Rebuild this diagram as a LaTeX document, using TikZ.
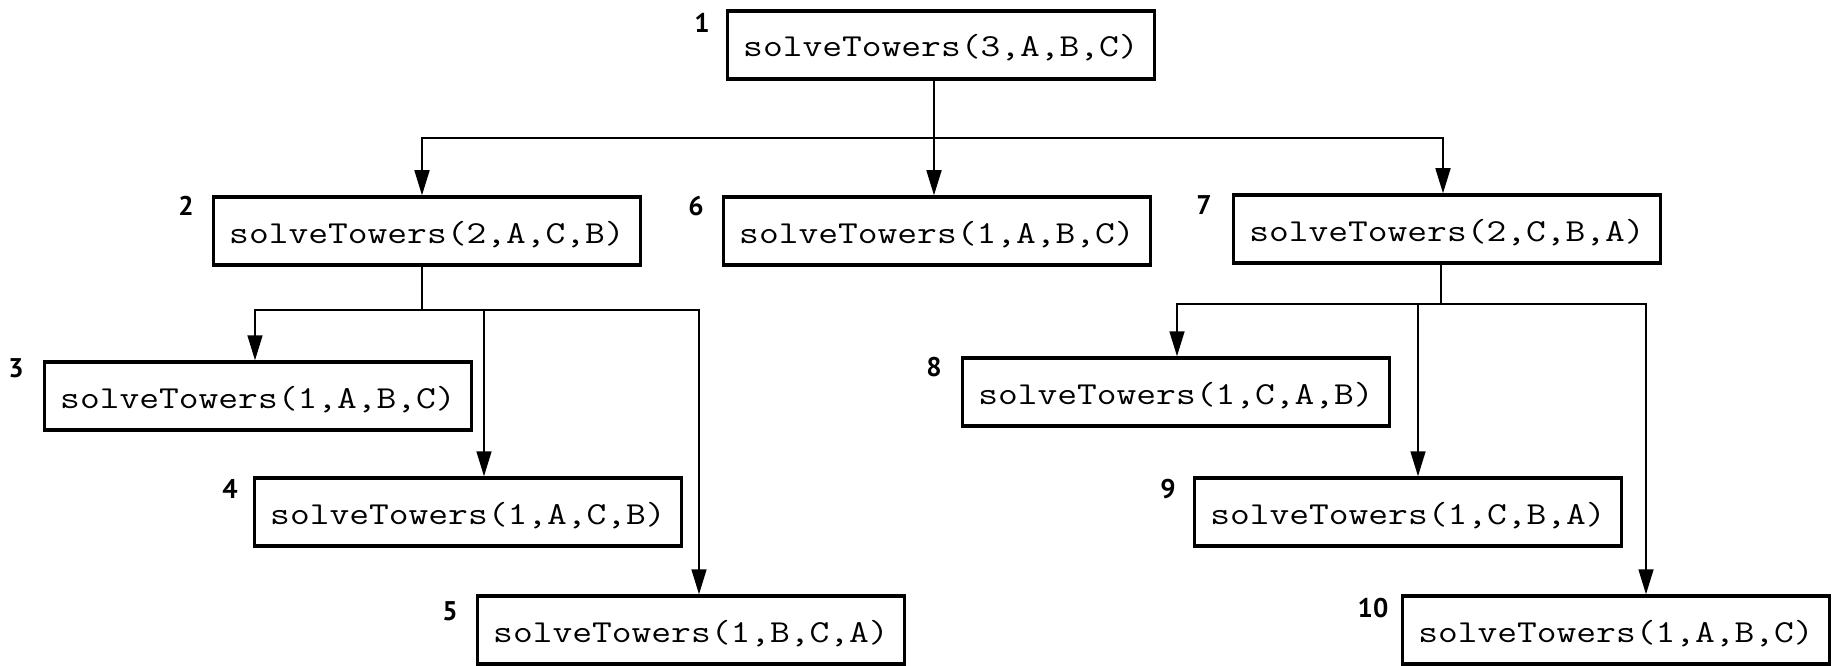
\documentclass[tikz,border=0pt]{standalone}
\usepackage{fontspec}
\newfontfamily\labelfont{PT Sans}
\usetikzlibrary{arrows.meta}
\tikzset{
  call/.style={draw, line width=3.5pt, minimum width=427pt, minimum height=68pt, inner sep=0pt,
    text height=28pt, text depth=4pt, font=\ttfamily\fontsize{32}{36}\selectfont},
  num/.style={font=\labelfont\bfseries\fontsize{27}{30}\selectfont, inner sep=0pt},
  conn/.style={line width=1.6pt},
  arr/.style={conn, -{Triangle[length=25pt,width=15pt]}},
}
\newcommand{\calltext}[1]{\scalebox{1.2}[1]{#1}}
\begin{document}
\begin{tikzpicture}[x=1pt,y=-1pt]
\useasboundingbox (0,0) rectangle (1837,666);
% call boxes
\node[call] (n1) at (941,45) {\calltext{solveTowers(3,A,B,C)}};
\node[call] (n2) at (427,231) {\calltext{solveTowers(2,A,C,B)}};
\node[call] (n6) at (937,231) {\calltext{solveTowers(1,A,B,C)}};
\node[call] (n7) at (1447,229) {\calltext{solveTowers(2,C,B,A)}};
\node[call] (n3) at (258,396) {\calltext{solveTowers(1,A,B,C)}};
\node[call] (n4) at (468,512) {\calltext{solveTowers(1,A,C,B)}};
\node[call] (n5) at (691,630) {\calltext{solveTowers(1,B,C,A)}};
\node[call] (n8) at (1176,392) {\calltext{solveTowers(1,C,A,B)}};
\node[call] (n9) at (1408,512) {\calltext{solveTowers(1,C,B,A)}};
\node[call] (n10) at (1616,630) {\calltext{solveTowers(1,A,B,C)}};
% order numbers
\node[num] (l1) at (702,23) {1};
\node[num] (l2) at (186,206) {2};
\node[num] (l6) at (696,206) {6};
\node[num] (l7) at (1204,205) {7};
\node[num] (l3) at (16,368) {3};
\node[num] (l4) at (230,489) {4};
\node[num] (l5) at (450,611) {5};
\node[num] (l8) at (934,367) {8};
\node[num] (l9) at (1168,489) {9};
\node[num] (l10) at (1373,608) {10};
% junctions
\coordinate (j1) at (934,138);
\coordinate (j2) at (422,310);
\coordinate (j7) at (1441,304);
% connectors
\draw[conn] (n1.south -| j1) -- (j1);
\draw[arr] (j1) -| ([xshift=-5pt]n2.north);
\draw[arr] (j1) -- (n6.north -| j1);
\draw[arr] (j1) -| ([xshift=-4pt]n7.north);
\draw[conn] (n2.south -| j2) -- (j2);
\draw[arr] (j2) -| ([xshift=-3pt]n3.north);
\draw[arr] (j2) -| ([xshift=16pt]n4.north);
\draw[arr] (j2) -| ([xshift=8pt]n5.north);
\draw[conn] (n7.south -| j7) -- (j7);
\draw[arr] (j7) -| ([xshift=1pt]n8.north);
\draw[arr] (j7) -| ([xshift=10pt]n9.north);
\draw[arr] (j7) -| ([xshift=30pt]n10.north);
\end{tikzpicture}
\end{document}
